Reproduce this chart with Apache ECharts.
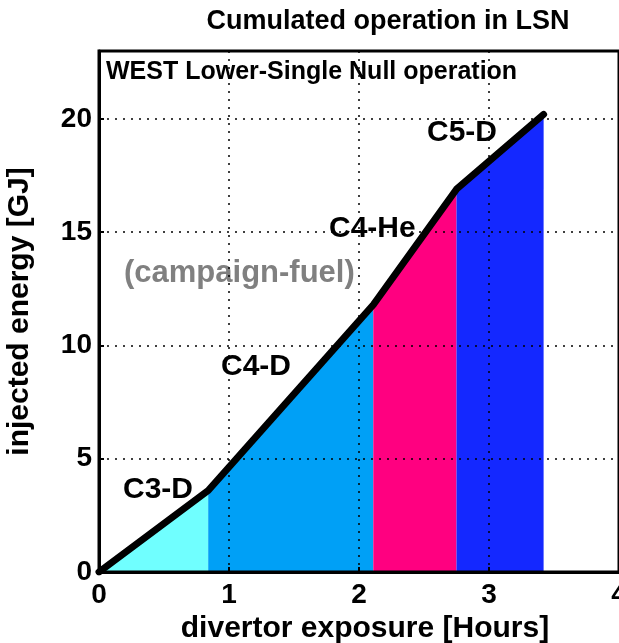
<!DOCTYPE html>
<html>
<head>
<meta charset="utf-8">
<script src="https://cdn.jsdelivr.net/npm/echarts@6/dist/echarts.min.js"></script>
<style>
  html, body { margin: 0; padding: 0; background: #fff; }
  #chart { width: 619px; height: 643px; }
</style>
</head>
<body>
<div id="chart"></div>
<script>
// campaign boundaries along the cumulative curve
const breakX = [0, 0.84, 2.11, 2.75, 3.42];
const breakY = [0, 3.6, 11.8, 16.9, 20.2];
const campaigns = ["C3-D", "C4-D", "C4-He", "C5-D"];
const campaignColors = ["#70ffff", "#00a0f6", "#ff0080", "#1428ff"];
const xTicks = [0, 1, 2, 3, 4];
const yTicks = [0, 5, 10, 15, 20];

const FONT = "Liberation Sans, Arial, sans-serif";
const chart = echarts.init(document.getElementById("chart"));

const areaSeries = campaigns.map((name, i) => ({
  name,
  type: "line",
  z: -1,
  symbol: "none",
  lineStyle: { width: 0 },
  areaStyle: { color: campaignColors[i], opacity: 1 },
  data: [[breakX[i], breakY[i]], [breakX[i + 1], breakY[i + 1]]],
}));

const axisCommon = {
  type: "value",
  axisLine: { show: true, onZero: false, lineStyle: { color: "#000", width: 3 } },
  axisTick: { show: true, inside: true, length: 5, lineStyle: { color: "#000", width: 2 } },
  splitLine: { show: true, lineStyle: { color: "#000", width: 1.5, type: [2, 6] } },
  axisLabel: { color: "#000", fontFamily: FONT, fontWeight: "bold", fontSize: 28 },
  nameTextStyle: { fontFamily: FONT, fontWeight: "bold", fontSize: 30, color: "#000" },
};

function label(text, x, y, size, fill) {
  return {
    type: "text", x, y,
    style: { text, font: "bold " + size + "px " + FONT, fill: fill || "#000", align: "left", verticalAlign: "middle" },
  };
}

chart.setOption({
  animation: false,
  backgroundColor: "#fff",
  grid: {
    left: 99, right: 0, top: 51, bottom: 71,
    outerBoundsMode: "none",
    show: true, borderColor: "#000", borderWidth: 3, backgroundColor: "transparent",
  },
  xAxis: {
    ...axisCommon,
    min: 0, max: 4, interval: 1,
    axisLabel: { ...axisCommon.axisLabel, margin: 9, formatter: (v) => (xTicks.includes(v) ? String(v) : "") },
    name: "divertor exposure [Hours]",
    nameLocation: "middle", nameGap: 42,
    nameTextStyle: { ...axisCommon.nameTextStyle, padding: [0, 0, 0, 12] },
  },
  yAxis: {
    ...axisCommon,
    min: 0, max: 23, interval: 5,
    axisLabel: { ...axisCommon.axisLabel, margin: 7, formatter: (v) => (yTicks.includes(v) ? String(v) : "") },
    name: "injected energy [GJ]",
    nameLocation: "middle", nameGap: 64,
  },
  graphic: [
    { type: "text", x: 388, y: 22, style: { text: "Cumulated operation in LSN", font: "bold 27px " + FONT, fill: "#000", align: "center", verticalAlign: "middle" } },
    label("WEST Lower-Single Null operation", 106, 72, 25),
    label("(campaign-fuel)", 124, 273, 31, "#808080"),
    label(campaigns[0], 123, 490, 30),
    label(campaigns[1], 221, 367, 30),
    label(campaigns[2], 329, 229, 30),
    label(campaigns[3], 427, 133, 30),
  ],
  series: [
    ...areaSeries,
    {
      name: "cumulated",
      type: "line",
      z: 5,
      symbol: "none",
      lineStyle: { color: "#000", width: 7, cap: "round", join: "round" },
      data: breakX.map((x, i) => [x, breakY[i]]),
    },
  ],
});
</script>
</body>
</html>
